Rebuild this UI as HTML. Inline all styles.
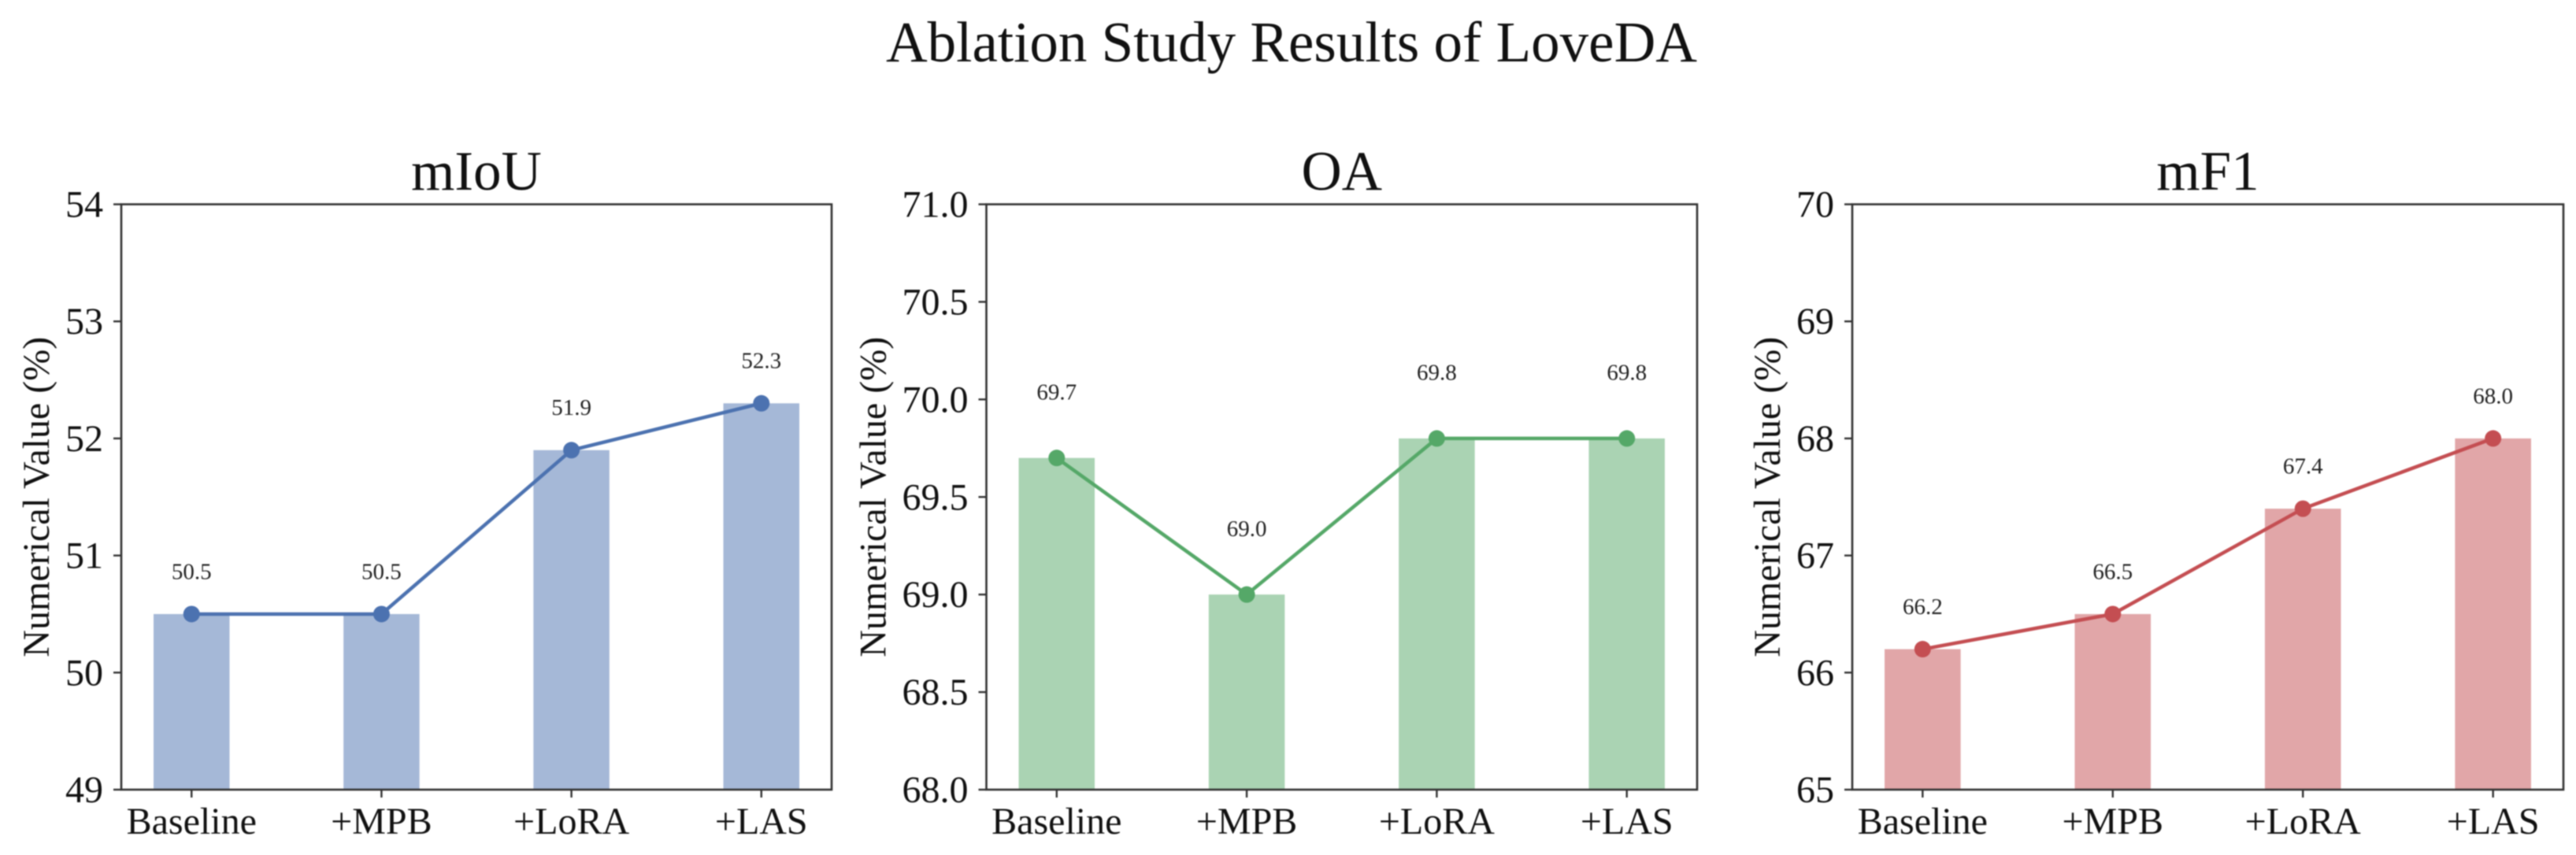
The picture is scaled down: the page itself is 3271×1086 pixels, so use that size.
<!DOCTYPE html>
<html lang="en">
<head>
<meta charset="utf-8">
<title>Ablation Study Results of LoveDA</title>
<style>
html,body{margin:0;padding:0;background:#fff;width:3271px;height:1086px;overflow:hidden}
svg{display:block;filter:blur(0.7px)}
text{font-family:"Liberation Serif","Times New Roman",serif;fill:#111}
</style>
</head>
<body>
<svg id="figure" xmlns="http://www.w3.org/2000/svg" width="3271" height="1086" viewBox="0 0 3271 1086">
<rect x="0" y="0" width="3271" height="1086" fill="#fff"/>
<text x="1640" y="78" font-size="73" text-anchor="middle">Ablation Study Results of LoveDA</text>
</svg>
<script>
const categories = ["Baseline", "+MPB", "+LoRA", "+LAS"];
const miouValues = [50.5, 50.5, 51.9, 52.3];
const oaValues = [69.7, 69.0, 69.8, 69.8];
const mf1Values = [66.2, 66.5, 67.4, 68.0];
const miouTicks = ["49", "50", "51", "52", "53", "54"];
const oaTicks = ["68.0", "68.5", "69.0", "69.5", "70.0", "70.5", "71.0"];
const mf1Ticks = ["65", "66", "67", "68", "69", "70"];
const yAxisLabel = "Numerical Value (%)";

const svg = document.getElementById('figure');
const NS = 'http://www.w3.org/2000/svg';

function make(parent, tag, attrs, content) {
  const el = document.createElementNS(NS, tag);
  for (const k in attrs) el.setAttribute(k, attrs[k]);
  if (content !== undefined) el.textContent = content;
  parent.appendChild(el);
  return el;
}

function drawPanel(cfg) {
  const top = 259.5, bottom = 1003;
  const left = cfg.left, right = cfg.right;
  const xMin = -0.37, xMax = 3.37, barWidth = 0.4;
  const tickNums = cfg.ticks.map(Number);
  const yMin = tickNums[0], yMax = tickNums[tickNums.length - 1];
  const xScale = function (i) { return left + (i - xMin) / (xMax - xMin) * (right - left); };
  const yScale = function (v) { return bottom - (v - yMin) / (yMax - yMin) * (bottom - top); };

  const g = make(svg, 'g', {});
  
  

  const title = make(g, 'text', { x: (left + right) / 2, y: 241, 'font-size': 71, 'text-anchor': 'middle' }, cfg.title);
  
  

  const ylabelX = left - cfg.ylabelOffset;
  const ylabel = make(g, 'text', { x: ylabelX, y: (top + bottom) / 2, 'font-size': 48, 'text-anchor': 'middle', transform: 'rotate(-90 ' + ylabelX + ' ' + ((top + bottom) / 2) + ')' }, yAxisLabel);
  
  

  cfg.values.forEach(function (v, i) {
    const cx = xScale(i);
    const halfW = (xScale(barWidth) - xScale(0)) / 2;
    const bar = make(g, 'rect', { x: cx - halfW, y: yScale(v), width: halfW * 2, height: bottom - yScale(v), fill: cfg.color, 'fill-opacity': 0.5 });
    
    
  });

  const points = cfg.values.map(function (v, i) { return xScale(i) + ',' + yScale(v); }).join(' ');
  const line = make(g, 'polyline', { points: points, fill: 'none', stroke: cfg.color, 'stroke-width': 4.5 });
  
  

  cfg.values.forEach(function (v, i) {
    const pt = make(g, 'circle', { cx: xScale(i), cy: yScale(v), r: 10.5, fill: cfg.color });
    
    

    const val = make(g, 'text', { x: xScale(i), y: yScale(v + 0.3), 'font-size': 29, 'text-anchor': 'middle', style: 'fill:#222' }, v.toFixed(1));
    
    
  });

  const frame = make(g, 'rect', { x: left, y: top, width: right - left, height: bottom - top, fill: 'none', stroke: '#333', 'stroke-width': 2.6 });
  
  

  cfg.ticks.forEach(function (label) {
    const y = yScale(Number(label));
    const tick = make(g, 'line', { x1: left - 10, x2: left, y1: y, y2: y, stroke: '#333', 'stroke-width': 2.4 });
    
    

    const text = make(g, 'text', { x: left - 23, y: y + 16, 'font-size': 48, 'text-anchor': 'end' }, label);
    
    
  });

  categories.forEach(function (label, i) {
    const x = xScale(i);
    const tick = make(g, 'line', { x1: x, x2: x, y1: bottom, y2: bottom + 10, stroke: '#333', 'stroke-width': 2.4 });
    
    

    const text = make(g, 'text', { x: x, y: 1059, 'font-size': 48, 'text-anchor': 'middle' }, label);
    
    
  });
}

drawPanel({ name: 'miou', title: 'mIoU', left: 154, right: 1056, ylabelOffset: 92, color: '#4C72B0', values: miouValues, ticks: miouTicks });
drawPanel({ name: 'oa', title: 'OA', left: 1252.5, right: 2155, ylabelOffset: 128, color: '#55A868', values: oaValues, ticks: oaTicks });
drawPanel({ name: 'mf1', title: 'mF1', left: 2352, right: 3255, ylabelOffset: 92, color: '#C44E52', values: mf1Values, ticks: mf1Ticks });
</script>
</body>
</html>
